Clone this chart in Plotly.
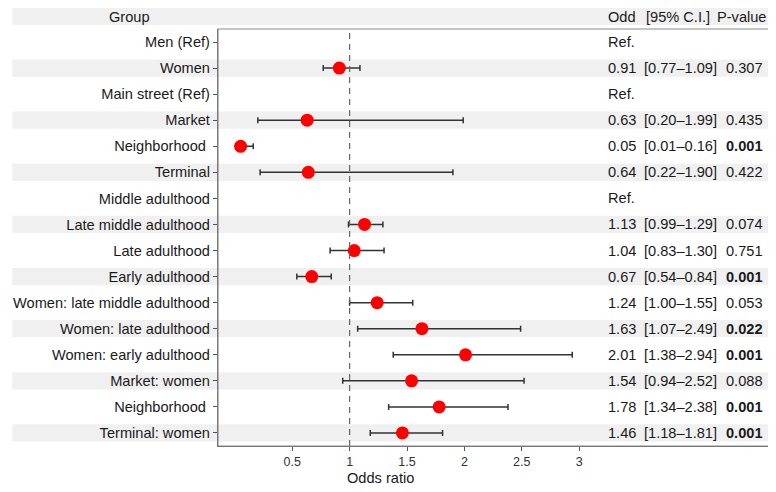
import plotly.graph_objects as go

# rows top to bottom
groups = ['Men (Ref)', 'Women', 'Main street (Ref)', 'Market', 'Neighborhood ',
          'Terminal', 'Middle adulthood', 'Late middle adulthood', 'Late adulthood',
          'Early adulthood', 'Women: late middle adulthood', 'Women: late adulthood',
          'Women: early adulthood', 'Market: women', 'Neighborhood ', 'Terminal: women']
odds = [None, 0.91, None, 0.63, 0.05, 0.64, None, 1.13, 1.04, 0.67,
        1.24, 1.63, 2.01, 1.54, 1.78, 1.46]
ci_low = [None, 0.77, None, 0.20, 0.01, 0.22, None, 0.99, 0.83, 0.54,
          1.00, 1.07, 1.38, 0.94, 1.34, 1.18]
ci_high = [None, 1.09, None, 1.99, 0.16, 1.90, None, 1.29, 1.30, 0.84,
           1.55, 2.49, 2.94, 2.52, 2.38, 1.81]
p_values = [None, '0.307', None, '0.435', '0.001', '0.422', None, '0.074', '0.751',
            '0.001', '0.053', '0.022', '0.001', '0.088', '0.001', '0.001']
p_bold = [False, False, False, False, True, False, False, False, False,
          True, False, True, True, False, True, True]
x_ticks = [0.5, 1, 1.5, 2, 2.5, 3]

FONT = 'Liberation Sans, Arial, sans-serif'
FS = 14.6
rows = list(range(len(groups)))

# the page body has an 8px margin, so the figure is 8px smaller and
# all positions below are given in window pixels minus that offset
OFF = 8
W, H = 776 - OFF, 492 - OFF
ML, MR, MT, MB = 212 - OFF, 5, 29 - OFF, 46
pw = W - ML - MR
ph = H - MT - MB


def px_x(p):
    return (p - OFF - ML) / pw


def px_y(p):
    return (H - MB - (p - OFF)) / ph


err_plus = [None if o is None else h - o for o, h in zip(odds, ci_high)]
err_minus = [None if o is None else o - l for o, l in zip(odds, ci_low)]

fig = go.Figure()
fig.add_trace(go.Scatter(
    x=odds, y=rows, mode='markers',
    marker=dict(color='#ff0000', size=13),
    error_x=dict(type='data', symmetric=False, array=err_plus, arrayminus=err_minus,
                 color='#333333', thickness=1.5, width=3),
    showlegend=False, hoverinfo='skip',
))

shapes = []
# alternating stripes, across the labels too
for i in rows:
    if i % 2 == 1:
        shapes.append(dict(type='rect', xref='paper', yref='y', x0=px_x(4), x1=1,
                           y0=i - 0.33, y1=i + 0.33, fillcolor='#f0f0f0',
                           line_width=0, layer='below'))
# header band
shapes.append(dict(type='rect', xref='paper', yref='paper', x0=px_x(4), x1=1,
                   y0=px_y(25), y1=px_y(8), fillcolor='#f0f0f0', line_width=0,
                   layer='below'))
# reference line at 1
shapes.append(dict(type='line', xref='x', yref='paper', x0=1, x1=1, y0=0, y1=1,
                   line=dict(color='#666666', width=1.2, dash='6px,5px')))
# panel border
shapes.append(dict(type='rect', xref='paper', yref='paper', x0=0, x1=1, y0=0, y1=1,
                   line=dict(color='#8a8a8a', width=1.2)))

ann = []
ann.append(dict(text='Group', x=px_x(100), y=px_y(17), xanchor='left'))
ann.append(dict(text='Odd', x=px_x(604), y=px_y(17), xanchor='left'))
ann.append(dict(text='[95% C.I.]', x=px_x(643), y=px_y(17), xanchor='left'))
ann.append(dict(text='P-value', x=px_x(768), y=px_y(17), xanchor='right'))
for i in rows:
    if odds[i] is None:
        ann.append(dict(text='Ref.', x=px_x(604), y=i, yref='y', xanchor='left'))
        continue
    ann.append(dict(text=f'{odds[i]:.2f}', x=px_x(604), y=i, yref='y', xanchor='left'))
    ann.append(dict(text=f'[{ci_low[i]:.2f}\u2013{ci_high[i]:.2f}]', x=px_x(641), y=i,
                    yref='y', xanchor='left'))
    p = f'<b>{p_values[i]}</b>' if p_bold[i] else p_values[i]
    ann.append(dict(text=p, x=px_x(765), y=i, yref='y', xanchor='right'))
ann.append(dict(text='Odds ratio', x=px_x(376), y=px_y(478), xanchor='center'))

for a in ann:
    a.setdefault('xref', 'paper')
    a.setdefault('yref', 'paper')
    a.update(showarrow=False, yanchor='middle',
             font=dict(family=FONT, size=FS, color='#1a1a1a'))

fig.update_layout(
    width=W, height=H,
    margin=dict(l=ML, r=MR, t=MT, b=MB),
    paper_bgcolor='white', plot_bgcolor='white',
    font=dict(family=FONT, size=FS, color='#1a1a1a'),
    shapes=shapes, annotations=ann,
    xaxis=dict(range=[-0.147, 4.672], tickvals=x_ticks,
               ticktext=[str(t) for t in x_ticks], showgrid=False, zeroline=False,
               ticks='outside', ticklen=4, tickcolor='#555555',
               tickfont=dict(size=12.5, color='#333333'),
               showline=True, linecolor='#666666', linewidth=1.3, fixedrange=True),
    yaxis=dict(range=[15.5, -0.5], tickvals=rows, ticktext=groups, showgrid=False,
               zeroline=False, ticks='outside', ticklen=4, tickcolor='#555555',
               tickfont=dict(size=FS, color='#1a1a1a'),
               showline=True, linecolor='#666666', linewidth=1.3),
)

fig.write_html("out.html")
